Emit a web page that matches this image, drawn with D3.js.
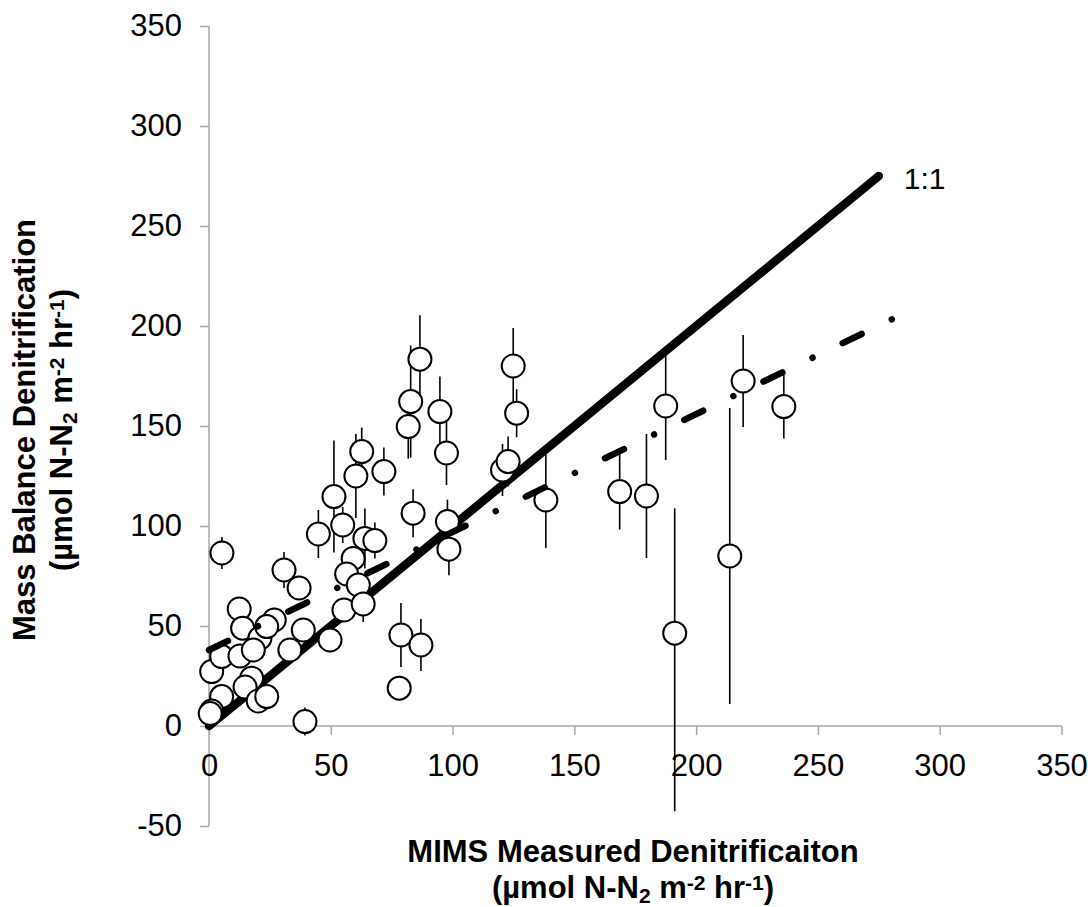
<!DOCTYPE html>
<html>
<head>
<meta charset="utf-8">
<script src="https://cdn.jsdelivr.net/npm/d3@7"></script>
<style>
  html, body { margin: 0; padding: 0; background: #fff; }
  svg { display: block; font-family: "Liberation Sans", Arial, sans-serif; }
</style>
</head>
<body>
<svg id="chart" width="1088" height="907"></svg>
<script>
// MIMS-measured vs. mass-balance denitrification (µmol N-N2 m-2 hr-1)
const mimsMeasured = [
  5.3, 1.1, 5.2, 12.4, 26.8, 13.8, 20.9, 23.7, 38.7, 33.2,
  12.7, 18.2, 17.5, 14.8, 5.2, 20.2, 23.7, 1.1, 0.5, 39.4,
  30.8, 37.0, 51.3, 44.9, 54.9, 64.0, 68.1, 59.2, 56.5, 61.3,
  55.4, 63.3, 62.7, 60.3, 71.8, 49.7, 78.8, 87.0, 78.1, 86.6,
  82.8, 81.8, 94.8, 97.5, 83.8, 97.9, 98.5, 120.5, 122.8, 124.9,
  126.3, 138.3, 168.6, 179.6, 187.5, 191.2, 213.8, 219.3, 236.0
];
const massBalance = [
  86.5, 27.2, 34.7, 58.5, 53.0, 48.9, 43.9, 49.7, 48.0, 38.0,
  35.0, 38.0, 23.9, 19.5, 14.7, 12.5, 14.7, 7.5, 6.2, 2.2,
  78.0, 69.0, 114.7, 96.0, 100.5, 93.8, 92.7, 83.8, 76.0, 70.5,
  58.0, 61.0, 137.2, 125.0, 127.2, 43.0, 45.5, 40.5, 18.9, 183.4,
  162.2, 149.7, 157.2, 136.5, 106.4, 102.2, 88.4, 128.0, 132.2, 180.0,
  156.4, 113.0, 117.2, 115.0, 160.0, 46.4, 85.0, 172.5, 159.7
];
// error bar extents above / below each value
const errorUp = [
  8, 3, 3, 3, 3, 3, 3, 3, 3, 3,
  3, 3, 3, 3, 3, 3, 3, 3, 3, 7,
  9, 6, 28, 12, 9, 15, 9, 5, 5, 5,
  5, 9, 12, 21, 12, 3, 16, 13, 3, 22,
  28, 16, 17.5, 16, 12, 11, 13, 13, 12.5, 19,
  12, 24, 19, 31, 27, 62.5, 74, 23, 16
];
const errorDown = [
  8, 3, 3, 3, 3, 3, 3, 3, 3, 3,
  3, 3, 3, 3, 3, 3, 3, 3, 3, 7,
  9, 6, 28, 12, 9, 15, 9, 5, 5, 5,
  5, 9, 12, 21, 12, 3, 16, 13, 3, 22,
  28, 16, 17.5, 16, 12, 11, 13, 13, 12.5, 19,
  12, 24, 19, 31, 27, 89, 74, 23, 16
];

// reference 1:1 line and fitted regression line (end points)
const oneToOneX = [0, 275];
const oneToOneY = [0, 275];
const trendX = [0, 281.5];
const trendY = [38, 204];

const xTicks = [0, 50, 100, 150, 200, 250, 300, 350];
const yTicks = [-50, 0, 50, 100, 150, 200, 250, 300, 350];

const svg = d3.select("#chart");
svg.append("rect").attr("width", 1088).attr("height", 907).attr("fill", "#fff");

const x = d3.scaleLinear().domain([0, 350]).range([209, 1061.5]);
const y = d3.scaleLinear().domain([-50, 350]).range([826, 26]);

const axisColor = "#a6a6a6";
const fontSize = 31;
const plainNumber = d => String(d);

// y axis (left ticks)
const yAxis = svg.append("g")
  .attr("transform", `translate(${x(0)},0)`)
  .call(d3.axisLeft(y).tickValues(yTicks).tickSize(9).tickPadding(18).tickFormat(plainNumber));
// x axis crossing at y = 0 (ticks below)
const xAxis = svg.append("g")
  .attr("transform", `translate(0,${y(0)})`)
  .call(d3.axisBottom(x).tickValues(xTicks).tickSize(9).tickPadding(19).tickFormat(plainNumber));

[yAxis, xAxis].forEach(g => {
  g.select(".domain").attr("stroke", axisColor).attr("stroke-width", 1.5);
  g.selectAll(".tick line").attr("stroke", axisColor).attr("stroke-width", 1.5);
  g.selectAll(".tick text")
    .attr("fill", "#000")
    .style("font-size", fontSize + "px")
    .style("font-family", "'Liberation Sans', Arial, sans-serif");
});
// plain axis lines without outer tick stubs
yAxis.select(".domain").attr("d", `M0,${y(350)}V${y(-50)}`);
xAxis.select(".domain").attr("d", `M${x(0)},0H${x(350)}`);

// 1:1 line
const line = d3.line().x(d => x(d[0])).y(d => y(d[1]));
svg.append("path")
  .datum(d3.zip(oneToOneX, oneToOneY))
  .attr("d", line)
  .attr("fill", "none")
  .attr("stroke", "#000")
  .attr("stroke-width", 8.5)
  .attr("stroke-linecap", "round");

// error bars
const pts = mimsMeasured.map((v, i) => ({
  x: v, y: massBalance[i], up: errorUp[i], down: errorDown[i]
}));
svg.append("g").selectAll("line")
  .data(pts)
  .join("line")
  .attr("x1", d => x(d.x)).attr("x2", d => x(d.x))
  .attr("y1", d => y(d.y + d.up)).attr("y2", d => y(d.y - d.down))
  .attr("stroke", "#000")
  .attr("stroke-width", 1.6);

// data points
svg.append("g").selectAll("circle")
  .data(pts)
  .join("circle")
  .attr("cx", d => x(d.x))
  .attr("cy", d => y(d.y))
  .attr("r", 11.5)
  .attr("fill", "#fff")
  .attr("stroke", "#000")
  .attr("stroke-width", 2);

// regression line (long dash - dot)
svg.append("path")
  .datum(d3.zip(trendX, trendY))
  .attr("d", line)
  .attr("fill", "none")
  .attr("stroke", "#000")
  .attr("stroke-width", 6.5)
  .attr("stroke-linecap", "round")
  .attr("stroke-dasharray", "21 33.5 0.01 33.5");

// 1:1 label
svg.append("text")
  .attr("x", x(oneToOneX[1]) + 25)
  .attr("y", y(oneToOneY[1]) + 13)
  .style("font-size", "30px")
  .text("1:1");

// axis titles
function unitsLine(sel) {
  sel.append("tspan").text("(µmol N-N");
  sel.append("tspan").attr("baseline-shift", "-22%").style("font-size", "21px").text("2");
  sel.append("tspan").text(" m");
  sel.append("tspan").attr("baseline-shift", "38%").style("font-size", "21px").text("-2");
  sel.append("tspan").text(" hr");
  sel.append("tspan").attr("baseline-shift", "38%").style("font-size", "21px").text("-1");
  sel.append("tspan").text(")");
}

const xTitleX = 633;
svg.append("text")
  .attr("x", xTitleX).attr("y", 862)
  .attr("text-anchor", "middle")
  .style("font-size", fontSize + "px").style("font-weight", "bold")
  .text("MIMS Measured Denitrificaiton");
svg.append("text")
  .attr("x", xTitleX).attr("y", 898)
  .attr("text-anchor", "middle")
  .style("font-size", fontSize + "px").style("font-weight", "bold")
  .call(unitsLine);

const yTitleY = 430;
svg.append("text")
  .attr("transform", `translate(35,${yTitleY}) rotate(-90)`)
  .attr("text-anchor", "middle")
  .style("font-size", fontSize + "px").style("font-weight", "bold")
  .text("Mass Balance Denitrification");
svg.append("text")
  .attr("transform", `translate(72,${yTitleY}) rotate(-90)`)
  .attr("text-anchor", "middle")
  .style("font-size", fontSize + "px").style("font-weight", "bold")
  .call(unitsLine);
</script>
</body>
</html>
